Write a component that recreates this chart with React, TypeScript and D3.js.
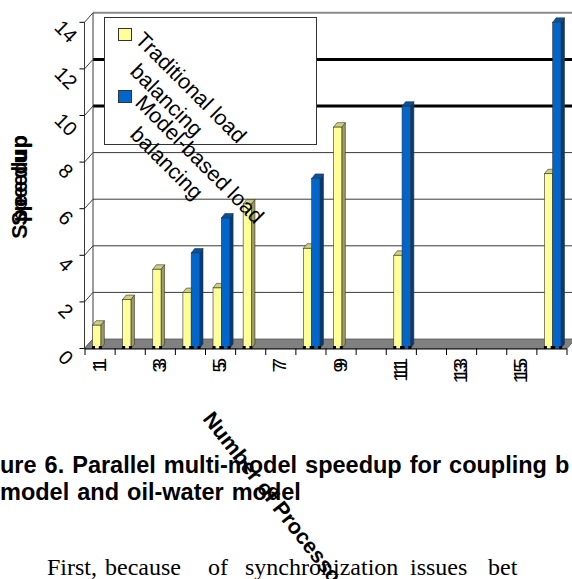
import React from "react";
import * as d3 from "d3";

// Number of processors on the category axis
const processors = [1, 2, 3, 4, 5, 6, 7, 8, 9, 10, 11, 12, 13, 14, 15, 16];
const processorTickLabels = ["1", "3", "5", "7", "9", "11", "13", "15"];
const processorTickValues = [1, 3, 5, 7, 9, 11, 13, 15];

// Speedup per processor count (null = no run)
const traditionalSpeedup = [1.0, 2.1, 3.4, 2.4, 2.6, 6.2, null, 4.3, 9.5, null, 4.0, null, null, null, null, 7.5];
const modelBasedSpeedup = [null, null, null, 4.1, 5.6, null, null, 7.3, null, null, 10.4, null, null, null, null, 14.0];

const seriesNames = ["Traditional load balancing", "Model-based load balancing"];
const speedupTicks = [0, 2, 4, 6, 8, 10, 12, 14];

const bodyWords = ["First,", "because", "of", "synchronization", "issues", "bet"];
const bodyWordX = [47, 105, 208, 245, 410, 488];

const SANS = "'Liberation Sans', Arial, sans-serif";
const SERIF = "'Liberation Serif', 'Times New Roman', serif";

const palette = [
  { front: "#FFFF99", side: "#9C9C5E", top: "#CFCF7C" },
  { front: "#0066CC", side: "#003C7A", top: "#0052A3" },
];

export default function App() {
  const W = 572;
  const H = 579;

  const x = d3.scaleBand<number>().domain(processors).range([85, 567]).paddingInner(0).paddingOuter(0);
  const bw = x.bandwidth();
  const xs = d3.scaleBand<string>().domain(seriesNames).range([bw * 0.25, bw * 0.8]);
  const y = d3.scaleLinear().domain([0, 14]).range([348.5, 22.3]);

  // depth of the floor/walls and of each column
  const DX = 8.5;
  const DY = -9.5;
  const BX = 3.5;
  const BY = -4.5;
  const xFront = 84.5;
  const xBack = xFront + DX;
  const xRight = 567;

  const series = [traditionalSpeedup, modelBasedSpeedup];

  const bars: { key: string; x0: number; v: number; s: number }[] = [];
  processors.forEach((p, i) => {
    series.forEach((vals, s) => {
      const v = vals[i];
      if (v == null) return;
      bars.push({ key: `${p}-${s}`, x0: (x(p) as number) + (xs(seriesNames[s]) as number), v, s });
    });
  });
  const barW = xs.bandwidth();

  const gridStyle = (v: number) => {
    if (v === 10 || v === 12) return { stroke: "#000", sw: 3 };
    if (v === 14) return { stroke: "#8a8a8a", sw: 2 };
    return { stroke: "#3a3a3a", sw: 1 };
  };

  const legendRows = [
    { y: 28, line1: "Traditional load", line2: "balancing", tx: 134, ty: 41 },
    { y: 90, line1: "Model-based load", line2: "balancing", tx: 134, ty: 104 },
  ];

  const titleSize = 21.5;
  const speedupLen = 4.223 * titleSize;

  return (
    <svg
      width={W}
      height={H}
      viewBox={`0 0 ${W} ${H}`}
      style={{ position: "absolute", left: 0, top: 0, background: "#fff" }}
    >
      <rect x={0} y={0} width={W} height={H} fill="#fff" />

      {/* back wall gridlines */}
      {speedupTicks
        .filter((v) => v > 0)
        .map((v) => {
          const g = gridStyle(v);
          return (
            <line key={`g${v}`} x1={xBack} x2={W + 2} y1={y(v) + DY} y2={y(v) + DY} stroke={g.stroke} strokeWidth={g.sw} />
          );
        })}

      {/* side wall */}
      <line x1={xFront} x2={xFront} y1={y(14)} y2={y(0)} stroke="#3a3a3a" strokeWidth={1} />
      <line x1={xBack} x2={xBack} y1={y(14) + DY} y2={y(0) + DY} stroke="#3a3a3a" strokeWidth={1} />
      {speedupTicks.map((v) => (
        <g key={`t${v}`}>
          <line x1={xFront} y1={y(v)} x2={xBack} y2={y(v) + DY} stroke="#3a3a3a" strokeWidth={1} />
          <line x1={xFront - 5} y1={y(v)} x2={xFront} y2={y(v)} stroke="#000" strokeWidth={1} />
        </g>
      ))}

      {/* floor */}
      <polygon
        points={`${xFront},${y(0)} ${xRight},${y(0)} ${xRight + DX},${y(0) + DY} ${xBack},${y(0) + DY}`}
        fill="#808080"
        stroke="#555"
        strokeWidth={0.8}
      />
      <line x1={xFront} x2={xRight} y1={y(0) + 0.5} y2={y(0) + 0.5} stroke="#000" strokeWidth={1} />
      {d3.range(processors.length + 1).map((i) => {
        const tx = 85 + i * bw;
        return <line key={`xt${i}`} x1={tx} x2={tx} y1={y(0)} y2={y(0) + 6.5} stroke="#000" strokeWidth={1} />;
      })}

      {/* columns */}
      {bars.map((b) => {
        const c = palette[b.s];
        const top = y(b.v);
        const bot = y(0);
        const x0 = b.x0;
        const x1 = x0 + barW;
        return (
          <g key={b.key}>
            <polygon
              points={`${x1},${top} ${x1 + BX},${top + BY} ${x1 + BX},${bot + BY} ${x1},${bot}`}
              fill={c.side}
              stroke="#333"
              strokeWidth={0.6}
            />
            <polygon
              points={`${x0},${top} ${x0 + BX},${top + BY} ${x1 + BX},${top + BY} ${x1},${top}`}
              fill={c.top}
              stroke="#333"
              strokeWidth={0.6}
            />
            <rect x={x0} y={top} width={barW} height={bot - top} fill={c.front} stroke="#333" strokeWidth={0.6} />
            <rect x={x0 - 0.5} y={bot - 2.5} width={3} height={3} fill="#000" />
            <rect x={x1 - 2} y={bot - 2.5} width={3} height={3} fill="#000" />
          </g>
        );
      })}

      {/* speedup tick labels */}
      {speedupTicks.map((v) => (
        <text
          key={`yl${v}`}
          transform={`translate(66,${y(v) + 9}) rotate(45)`}
          textAnchor="middle"
          dominantBaseline="central"
          fontFamily={SANS}
          fontSize={20}
        >
          {v}
        </text>
      ))}

      {/* processor tick labels (printed twice, slightly offset) */}
      {processorTickValues.map((p, i) => {
        const cx = (x(p) as number) + bw / 2;
        return (
          <g key={`xl${p}`} fontFamily={SANS} fontSize={19}>
            {[0, 1].map((k) => (
              <text
                key={k}
                transform={`translate(${cx - 1},${358 + k * 4}) rotate(-90)`}
                textAnchor="end"
                dominantBaseline="central"
              >
                {processorTickLabels[i]}
              </text>
            ))}
          </g>
        );
      })}

      {/* legend */}
      <rect x={104.5} y={17.5} width={212} height={127} fill="#fff" stroke="#333" strokeWidth={1} />
      {legendRows.map((r, i) => (
        <g key={`lg${i}`}>
          <rect x={118.5} y={r.y + 0.5} width={13} height={12} fill={palette[i].front} stroke="#333" strokeWidth={1} />
          <g transform={`translate(${r.tx},${r.ty}) rotate(45)`} fontFamily={SANS} fontSize={21.5}>
            <text x={0} y={0}>{r.line1}</text>
            <text x={19} y={26}>{r.line2}</text>
          </g>
        </g>
      ))}

      {/* value axis title, printed twice with different spacing */}
      <g transform="translate(27,135) rotate(-90)" fontFamily={SANS} fontWeight="bold" fontSize={titleSize}>
        <text textAnchor="end">Speedup</text>
        <text textAnchor="end" textLength={speedupLen + 13} lengthAdjust="spacing">
          Speedup
        </text>
      </g>

      {/* caption */}
      <g fontFamily={SANS} fontWeight="bold" fontSize={23.5}>
        <text x={0} y={473} wordSpacing={1.5}>ure 6. Parallel multi-model speedup for coupling b</text>
        <text x={0} y={500} wordSpacing={1.5}>model and oil-water model</text>
      </g>

      <text transform="translate(202,419) rotate(52)" fontFamily={SANS} fontWeight="bold" fontSize={titleSize}>
        Number of Processors
      </text>

      {/* body text */}
      <g fontFamily={SERIF} fontSize={24}>
        {bodyWords.map((w, i) => (
          <text key={`bw${i}`} x={bodyWordX[i]} y={575}>
            {w}
          </text>
        ))}
      </g>
    </svg>
  );
}
